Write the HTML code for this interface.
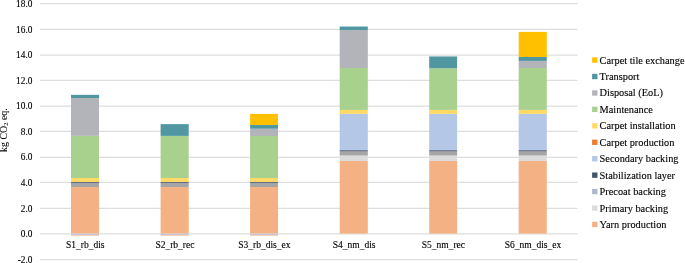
<!DOCTYPE html>
<html><head><meta charset="utf-8"><title>chart</title>
<style>
html,body{margin:0;padding:0;background:#fff;}
body{width:685px;height:263px;overflow:hidden;}
svg{display:block;}
text{font-family:"Liberation Serif","Times New Roman",serif;fill:#000;stroke:#000;stroke-width:0.12px;}
.t{font-size:9.3px;stroke-width:0.05px;}
.c{font-size:9.5px;stroke-width:0.05px;}
.l{font-size:10.33px;}
</style></head><body>
<svg width="685" height="263" viewBox="0 0 685 263">
<rect width="685" height="263" fill="#fff"/>

<g stroke="#dedede" stroke-width="1.25">
<line x1="40" x2="577.6" y1="3.60" y2="3.60"/>
<line x1="40" x2="577.6" y1="29.45" y2="29.45"/>
<line x1="40" x2="577.6" y1="55.00" y2="55.00"/>
<line x1="40" x2="577.6" y1="80.45" y2="80.45"/>
<line x1="40" x2="577.6" y1="106.20" y2="106.20"/>
<line x1="40" x2="577.6" y1="131.45" y2="131.45"/>
<line x1="40" x2="577.6" y1="157.40" y2="157.40"/>
<line x1="40" x2="577.6" y1="182.45" y2="182.45"/>
<line x1="40" x2="577.6" y1="208.45" y2="208.45"/>
<line x1="40" x2="577.6" y1="233.90" y2="233.90"/>
<line x1="40" x2="577.6" y1="259.50" y2="259.50"/>
</g>
<g class="t" text-anchor="end">
<text x="32.4" y="6.65">18.0</text>
<text x="32.4" y="32.50">16.0</text>
<text x="32.4" y="58.05">14.0</text>
<text x="32.4" y="83.50">12.0</text>
<text x="32.4" y="109.25">10.0</text>
<text x="32.4" y="134.50">8.0</text>
<text x="32.4" y="160.45">6.0</text>
<text x="32.4" y="185.50">4.0</text>
<text x="32.4" y="211.50">2.0</text>
<text x="32.4" y="236.95">0.0</text>
<text x="32.4" y="262.55">-2.0</text>
</g>
<g>
<rect x="71.0" y="187.04" width="28.0" height="46.56" fill="#f4b183"/>
<rect x="71.0" y="183.08" width="28.0" height="3.96" fill="#a5a5a5"/>
<rect x="71.0" y="182.06" width="28.0" height="1.02" fill="#55617f"/>
<rect x="71.0" y="177.96" width="28.0" height="4.09" fill="#ffd966"/>
<rect x="71.0" y="135.88" width="28.0" height="42.08" fill="#a9d18e"/>
<rect x="71.0" y="98.03" width="28.0" height="37.86" fill="#b3b4b9"/>
<rect x="71.0" y="94.83" width="28.0" height="3.20" fill="#5197a1"/>
<rect x="71.0" y="233.80" width="28.0" height="1.1" fill="#b9c6e0"/>
<rect x="71.0" y="234.90" width="28.0" height="0.8" fill="#f5b88f"/>
</g>
<g>
<rect x="160.6" y="187.04" width="28.1" height="46.56" fill="#f4b183"/>
<rect x="160.6" y="183.08" width="28.1" height="3.96" fill="#a5a5a5"/>
<rect x="160.6" y="182.06" width="28.1" height="1.02" fill="#55617f"/>
<rect x="160.6" y="177.96" width="28.1" height="4.09" fill="#ffd966"/>
<rect x="160.6" y="135.88" width="28.1" height="42.08" fill="#a9d18e"/>
<rect x="160.6" y="124.12" width="28.1" height="11.77" fill="#5197a1"/>
<rect x="160.6" y="233.80" width="28.1" height="1.1" fill="#b9c6e0"/>
<rect x="160.6" y="234.90" width="28.1" height="0.8" fill="#f5b88f"/>
</g>
<g>
<rect x="250.1" y="187.04" width="27.9" height="46.56" fill="#f4b183"/>
<rect x="250.1" y="183.08" width="27.9" height="3.96" fill="#a5a5a5"/>
<rect x="250.1" y="182.06" width="27.9" height="1.02" fill="#55617f"/>
<rect x="250.1" y="177.96" width="27.9" height="4.09" fill="#ffd966"/>
<rect x="250.1" y="136.01" width="27.9" height="41.95" fill="#a9d18e"/>
<rect x="250.1" y="128.72" width="27.9" height="7.29" fill="#b3b4b9"/>
<rect x="250.1" y="125.01" width="27.9" height="3.71" fill="#5197a1"/>
<rect x="250.1" y="113.89" width="27.9" height="11.13" fill="#ffc000"/>
<rect x="250.1" y="233.80" width="27.9" height="1.1" fill="#b9c6e0"/>
<rect x="250.1" y="234.90" width="27.9" height="0.8" fill="#f5b88f"/>
</g>
<g>
<rect x="339.7" y="160.95" width="28.1" height="72.65" fill="#f4b183"/>
<rect x="339.7" y="155.52" width="28.1" height="5.44" fill="#dbdbdb"/>
<rect x="339.7" y="151.87" width="28.1" height="3.65" fill="#a5a5a5"/>
<rect x="339.7" y="150.98" width="28.1" height="0.90" fill="#8d8d8f"/>
<rect x="339.7" y="149.95" width="28.1" height="1.02" fill="#6a7b9c"/>
<rect x="339.7" y="113.89" width="28.1" height="36.07" fill="#b4c7e7"/>
<rect x="339.7" y="109.92" width="28.1" height="3.96" fill="#ffd966"/>
<rect x="339.7" y="67.97" width="28.1" height="41.95" fill="#a9d18e"/>
<rect x="339.7" y="29.98" width="28.1" height="37.99" fill="#b3b4b9"/>
<rect x="339.7" y="26.53" width="28.1" height="3.45" fill="#5197a1"/>
</g>
<g>
<rect x="429.2" y="160.95" width="27.9" height="72.65" fill="#f4b183"/>
<rect x="429.2" y="155.52" width="27.9" height="5.44" fill="#dbdbdb"/>
<rect x="429.2" y="151.87" width="27.9" height="3.65" fill="#a5a5a5"/>
<rect x="429.2" y="150.98" width="27.9" height="0.90" fill="#8d8d8f"/>
<rect x="429.2" y="149.95" width="27.9" height="1.02" fill="#6a7b9c"/>
<rect x="429.2" y="113.89" width="27.9" height="36.07" fill="#b4c7e7"/>
<rect x="429.2" y="109.92" width="27.9" height="3.96" fill="#ffd966"/>
<rect x="429.2" y="68.23" width="27.9" height="41.70" fill="#a9d18e"/>
<rect x="429.2" y="56.46" width="27.9" height="11.77" fill="#5197a1"/>
</g>
<g>
<rect x="518.7" y="160.95" width="28.1" height="72.65" fill="#f4b183"/>
<rect x="518.7" y="155.52" width="28.1" height="5.44" fill="#dbdbdb"/>
<rect x="518.7" y="151.87" width="28.1" height="3.65" fill="#a5a5a5"/>
<rect x="518.7" y="150.98" width="28.1" height="0.90" fill="#8d8d8f"/>
<rect x="518.7" y="149.95" width="28.1" height="1.02" fill="#6a7b9c"/>
<rect x="518.7" y="113.89" width="28.1" height="36.07" fill="#b4c7e7"/>
<rect x="518.7" y="109.92" width="28.1" height="3.96" fill="#ffd966"/>
<rect x="518.7" y="67.97" width="28.1" height="41.95" fill="#a9d18e"/>
<rect x="518.7" y="60.94" width="28.1" height="7.03" fill="#b3b4b9"/>
<rect x="518.7" y="56.97" width="28.1" height="3.96" fill="#5197a1"/>
<rect x="518.7" y="31.90" width="28.1" height="25.07" fill="#ffc000"/>
</g>
<g class="c" text-anchor="middle">
<text x="85.3" y="247.8">S1_rb_dis</text>
<text x="174.9" y="247.8">S2_rb_rec</text>
<text x="264.4" y="247.8">S3_rb_dis_ex</text>
<text x="354.1" y="247.8">S4_nm_dis</text>
<text x="443.4" y="247.8">S5_nm_rec</text>
<text x="533.0" y="247.8">S6_nm_dis_ex</text>
</g>
<text class="l" style="font-size:9.9px;stroke-width:0.05px" text-anchor="middle" transform="translate(7.0,130.1) rotate(-90)">kg CO<tspan font-size="6.6px" dy="1.2">2</tspan><tspan dy="-1.2"> eq.</tspan></text>
<g class="l">
<rect x="592.1" y="57.40" width="5.35" height="5.35" fill="#ffc000"/>
<text x="599.6" y="63.55">Carpet tile exchange</text>
<rect x="592.1" y="73.84" width="5.35" height="5.35" fill="#5197a1"/>
<text x="599.6" y="79.99">Transport</text>
<rect x="592.1" y="90.28" width="5.35" height="5.35" fill="#b3b4b9"/>
<text x="599.6" y="96.43">Disposal (EoL)</text>
<rect x="592.1" y="106.72" width="5.35" height="5.35" fill="#a9d18e"/>
<text x="599.6" y="112.87">Maintenance</text>
<rect x="592.1" y="123.16" width="5.35" height="5.35" fill="#ffd966"/>
<text x="599.6" y="129.31">Carpet installation</text>
<rect x="592.1" y="139.60" width="5.35" height="5.35" fill="#ed7d31"/>
<text x="599.6" y="145.75">Carpet production</text>
<rect x="592.1" y="156.04" width="5.35" height="5.35" fill="#b4c7e7"/>
<text x="599.6" y="162.19">Secondary backing</text>
<rect x="592.1" y="172.48" width="5.35" height="5.35" fill="#44546a"/>
<text x="599.6" y="178.63">Stabilization layer</text>
<rect x="592.1" y="188.92" width="5.35" height="5.35" fill="#adb9ca"/>
<text x="599.6" y="195.07">Precoat backing</text>
<rect x="592.1" y="205.36" width="5.35" height="5.35" fill="#dbdbdb"/>
<text x="599.6" y="211.51">Primary backing</text>
<rect x="592.1" y="221.80" width="5.35" height="5.35" fill="#f4b183"/>
<text x="599.6" y="227.95">Yarn production</text>
</g>
</svg>
</body></html>
